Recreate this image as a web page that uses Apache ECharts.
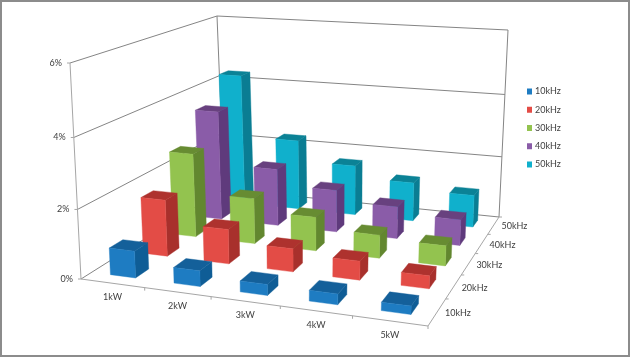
<!DOCTYPE html>
<html><head><meta charset="utf-8">
<style>html,body{margin:0;padding:0;background:#fff}#c{width:630px;height:357px}</style>
<script src="https://cdn.jsdelivr.net/npm/echarts@6/dist/echarts.min.js"></script>
</head><body><div id="c"></div>
<script>
const powers = ['1kW','2kW','3kW','4kW','5kW'];
const freqs = ['10kHz','20kHz','30kHz','40kHz','50kHz'];
const pctTicks = [0,2,4,6];
const v10k = [0.78,0.45,0.31,0.3,0.23];
const v20k = [1.7,1.03,0.68,0.55,0.37];
const v30k = [2.6,1.4,1.03,0.7,0.6];
const v40k = [3.5,1.82,1.33,1.0,0.8];
const v50k = [4.3,2.3,1.63,1.25,1.03];
const seriesValues = [v10k,v20k,v30k,v40k,v50k];
const faceColors = ['#1e7cc2','#e34c46','#93c34f','#8a5ca8','#10b0cc'];
const sideColors = ['#0f5d96','#a8302c','#62872f','#5f3a7c','#0a7d93'];
const topColors  = ['#14609a','#ae322e','#678c32','#68417f','#0b8296'];

// Projection of the unit box (u along power, v along frequency, h up)
const floorQuad = [[81,279],[428,326],[499,217],[224,189]];
const topQuad   = [[70,63],[437,87],[508,30],[217,16]];
const heightBow = 0.95;
function homography(q){
  const [x0,y0]=q[0],[x1,y1]=q[1],[x2,y2]=q[2],[x3,y3]=q[3];
  const dx1=x1-x2,dx2=x3-x2,dx3=x0-x1+x2-x3,dy1=y1-y2,dy2=y3-y2,dy3=y0-y1+y2-y3;
  const den=dx1*dy2-dx2*dy1,g=(dx3*dy2-dx2*dy3)/den,h=(dx1*dy3-dx3*dy1)/den;
  const a=x1-x0+g*x1,b=x3-x0+h*x3,d=y1-y0+g*y1,e=y3-y0+h*y3;
  return (u,v)=>{const w=g*u+h*v+1;return [(a*u+b*v+x0)/w,(d*u+e*v+y0)/w];};
}
const floorH=homography(floorQuad), topH=homography(topQuad);
function p3(u,v,h){
  const f=floorH(u,v),t=topH(u,v),k=h*heightBow/(1-h+h*heightBow);
  return [f[0]+(t[0]-f[0])*k,f[1]+(t[1]-f[1])*k];
}
const barU=0.40, barV=0.40, slots=freqs.length;

function renderBar(params,api){
  const j=params.seriesIndex;
  const r=params.coordSys;
  const pt=api.coord([api.value(0),api.value(1)]);
  const slotU=api.size([1,0])[0]/r.width;
  const uc=(pt[0]-r.x)/r.width;
  const h=(r.y+r.height-pt[1])/r.height;
  const vc=(j+0.5)/slots, du=slotU*barU/2, dv=barV/slots/2;
  const u0=uc-du,u1=uc+du,v0=vc-dv,v1=vc+dv;
  const poly=(pts,c)=>({type:'polygon',shape:{points:pts},style:{fill:c,stroke:c,lineWidth:0.4}});
  return {type:'group',children:[
    poly([p3(u1,v0,0),p3(u1,v1,0),p3(u1,v1,h),p3(u1,v0,h)],sideColors[j]),
    poly([p3(u0,v0,h),p3(u1,v0,h),p3(u1,v1,h),p3(u0,v1,h)],topColors[j]),
    poly([p3(u0,v0,0),p3(u1,v0,0),p3(u1,v0,h),p3(u0,v0,h)],faceColors[j])
  ]};
}
const labelStyle={fill:'#404040',fontFamily:'Lato',fontSize:9};
function renderFrame(){
  const kids=[];
  const line=(a,b,c,w)=>kids.push({type:'line',shape:{x1:a[0],y1:a[1],x2:b[0],y2:b[1]},style:{stroke:c,lineWidth:w||1}});
  const text=(s,x,y,al)=>kids.push({type:'text',style:Object.assign({text:s,x:x,y:y,align:al,verticalAlign:'middle'},labelStyle)});
  const grid='#858585',axis='#a6a6a6',max=pctTicks[pctTicks.length-1];
  pctTicks.forEach(t=>{
    const h=t/max;
    line(p3(0,0,h),p3(0,1,h),grid);
    line(p3(0,1,h),p3(1,1,h),grid);
    const a=p3(0,0,h);
    line(a,[a[0]-3,a[1]],axis);
    text(t+'%',a[0]-8,a[1],'right');
  });
  line(p3(0,0,0),p3(0,0,1),axis);
  line(p3(0,1,0),p3(0,1,1),grid);
  line(p3(1,1,0),p3(1,1,1),grid);
  line(p3(0,0,0),p3(1,0,0),axis);
  line(p3(1,0,0),p3(1,1,0),axis);
  powers.forEach((s,i)=>{
    const t=p3((i+1)/powers.length,0,0);
    line(t,[t[0],t[1]+3],axis);
    const c=p3((i+0.5)/powers.length,0,0);
    text(s,c[0],c[1]+14,'center');
  });
  freqs.forEach((s,j)=>{
    const t=p3(1,(j+1)/slots,0);
    line(t,[t[0]+3,t[1]],axis);
    const c=p3(1,(j+0.5)/slots,0);
    text(s,c[0]+8,c[1]+1,'left');
  });
  kids.push({type:'rect',shape:{x:1,y:1,width:628,height:355},style:{fill:'none',stroke:'#8c8c8c',lineWidth:2}});
  return {type:'group',children:kids};
}
const series=freqs.map((f,j)=>({
  name:f,type:'custom',coordinateSystem:'cartesian2d',z:20-j,
  itemStyle:{color:faceColors[j]},
  data:seriesValues[j].map((v,i)=>[i,v]),
  encode:{x:0,y:1},renderItem:renderBar,clip:false,silent:true
}));
series.push({type:'custom',name:'frame',coordinateSystem:'none',z:1,data:[0],renderItem:renderFrame,silent:true,clip:false});
const chart=echarts.init(document.getElementById('c'),null,{renderer:'canvas'});
chart.setOption({
  animation:false,backgroundColor:'#fff',
  grid:{left:0,right:0,top:0,bottom:0,show:false},
  xAxis:{type:'category',data:powers,show:false},
  yAxis:{type:'value',min:0,max:pctTicks[pctTicks.length-1],interval:2,show:false},
  legend:{data:freqs,orient:'vertical',left:522,top:82,icon:'rect',itemWidth:5,itemHeight:6,itemGap:9.25,selectedMode:false,
    textStyle:{color:'#404040',fontFamily:'Lato',fontSize:9,padding:[0,0,0,-2]}},
  series:series
});
</script></body></html>
